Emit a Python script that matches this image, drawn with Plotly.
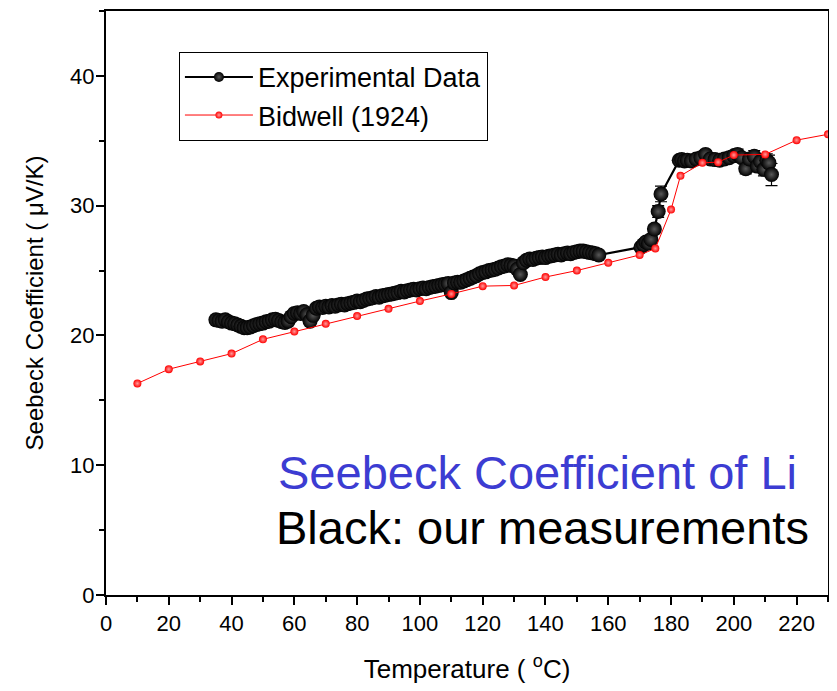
import plotly.graph_objects as go

# Experimental data (dense part)
T_exp = [35, 36, 37, 38, 39, 40, 41, 42, 43, 44, 45, 46, 47, 48, 49, 50, 51, 52, 53, 54,
         55, 56, 57, 58, 59, 60, 61, 62, 63, 64, 65, 66, 67, 68, 69, 70, 71, 72, 73, 74,
         75, 76, 77, 78, 79, 80, 81, 82, 83, 84, 85, 86, 87, 88, 89, 90, 91, 92, 93, 94,
         95, 96, 97, 98, 99, 100, 101, 102, 103, 104, 105, 106, 107, 108, 109, 110, 111, 112, 113, 114,
         115, 116, 117, 118, 119, 120, 121, 122, 123, 124, 125, 126, 127, 128, 129, 130, 131, 132, 133, 134,
         135, 136, 137, 138, 139, 140, 141, 142, 143, 144, 145, 146, 147, 148, 149, 150, 151, 152, 153, 154,
         155, 156, 157]
S_exp = [21.20, 21.15, 21.10, 21.20, 21.05, 20.95, 20.90, 20.80, 20.70, 20.60, 20.60, 20.65, 20.75, 20.85, 20.90, 20.95, 21.05, 21.10, 21.20, 21.25,
         21.15, 21.05, 21.00, 21.10, 21.45, 21.70, 21.75, 21.70, 21.85, 21.60, 21.10, 21.55, 22.10, 22.20, 22.15, 22.25, 22.20, 22.30, 22.25, 22.35,
         22.40, 22.35, 22.45, 22.50, 22.55, 22.65, 22.60, 22.70, 22.80, 22.85, 22.90, 23.00, 22.95, 23.05, 23.10, 23.15, 23.20, 23.25, 23.30, 23.40,
         23.35, 23.45, 23.50, 23.55, 23.50, 23.60, 23.65, 23.60, 23.70, 23.75, 23.80, 23.85, 23.90, 23.95, 24.00, 23.30, 24.05, 24.10, 24.10, 24.20,
         24.30, 24.40, 24.50, 24.60, 24.75, 24.85, 24.90, 25.00, 25.05, 25.10, 25.20, 25.30, 25.35, 25.45, 25.40, 25.35, 25.10, 24.70, 25.60, 25.80,
         25.90, 25.85, 25.95, 26.00, 26.05, 26.00, 26.10, 26.15, 26.20, 26.25, 26.20, 26.30, 26.35, 26.30, 26.40, 26.45, 26.50, 26.50, 26.45, 26.40,
         26.35, 26.30, 26.20]

# Experimental data (transition and plateau, with error bars)
T_tail = [170.4, 171.2, 172.0, 172.8, 173.6, 174.7, 175.9, 176.8, 182.6, 183.4, 184.3, 185.2, 186.5,
          188.0, 189.5, 191.0, 192.5, 194.0, 195.5, 197.0, 198.5, 200.0, 201.2, 202.5, 203.8, 205.0,
          206.5, 207.5, 208.5, 209.6, 210.5, 211.2, 212.0]
S_tail = [26.8, 27.0, 27.2, 27.1, 27.4, 28.2, 29.55, 30.9, 33.5, 33.55, 33.45, 33.5, 33.45,
          33.6, 33.7, 33.95, 33.6, 33.55, 33.5, 33.6, 33.7, 33.85, 33.95, 33.7, 32.85, 33.6,
          33.8, 33.05, 33.4, 32.8, 33.5, 33.3, 32.4]
E_tail = [0.2, 0.2, 0.2, 0.2, 0.2, 0.3, 0.45, 0.6, 0.2, 0.2, 0.2, 0.2, 0.2,
          0.2, 0.25, 0.3, 0.25, 0.25, 0.25, 0.3, 0.3, 0.35, 0.4, 0.35, 0.4, 0.4,
          0.45, 0.45, 0.45, 0.5, 0.5, 0.6, 0.85]

# Bidwell (1924)
T_bid = [10, 20, 30, 40, 50, 60, 70, 80, 90, 100, 110, 120, 130, 140, 150, 160, 170,
         175, 180, 183, 190, 195, 200, 210, 220, 230]
S_bid = [16.3, 17.4, 18.0, 18.6, 19.7, 20.3, 20.9, 21.5, 22.05, 22.65, 23.2, 23.8, 23.85,
         24.5, 25.0, 25.6, 26.2, 26.7, 29.7, 32.3, 33.3, 33.35, 33.9, 33.95, 35.05, 35.5]

x_ticks = [0, 20, 40, 60, 80, 100, 120, 140, 160, 180, 200, 220]
y_ticks = [0, 10, 20, 30, 40]

FONT = "Liberation Sans, Arial, sans-serif"

fig = go.Figure()

# error bars for the tail
fig.add_trace(go.Scatter(
    x=T_tail, y=S_tail, mode="markers",
    marker=dict(size=2, color="black", opacity=0),
    error_y=dict(type="data", array=E_tail, visible=True, color="black",
                 thickness=1.2, width=6),
    showlegend=False, hoverinfo="skip"))

fig.add_trace(go.Scatter(
    x=T_exp + T_tail, y=S_exp + S_tail, mode="lines+markers",
    name="Experimental Data", showlegend=False,
    line=dict(color="black", width=2.2),
    marker=dict(size=15, color="black",
                gradient=dict(type="radial", color="#585858"),
                line=dict(width=0)),
))

fig.add_trace(go.Scatter(
    x=T_bid, y=S_bid, mode="lines+markers",
    name="Bidwell (1924)", showlegend=False,
    line=dict(color="#ff0000", width=1),
    marker=dict(size=8, color="#ff0000",
                gradient=dict(type="radial", color="#ff9a9a"),
                line=dict(width=0)),
))

# legend entries (smaller symbols as in the reference legend)
fig.add_trace(go.Scatter(
    x=[None], y=[None], mode="lines+markers", name="Experimental Data",
    line=dict(color="black", width=2),
    marker=dict(size=10, color="black", gradient=dict(type="radial", color="#585858"),
                line=dict(width=0))))
fig.add_trace(go.Scatter(
    x=[None], y=[None], mode="lines+markers", name="Bidwell (1924)",
    line=dict(color="#ff0000", width=1),
    marker=dict(size=7, color="#ff0000", gradient=dict(type="radial", color="#ff9a9a"),
                line=dict(width=0))))

fig.add_annotation(x=0.598, y=0.2095, xref="paper", yref="paper",
                   text="Seebeck Coefficient of Li", showarrow=False,
                   font=dict(family=FONT, size=47, color="#3c3cd2"),
                   xanchor="center", yanchor="middle")
fig.add_annotation(x=0.605, y=0.116, xref="paper", yref="paper",
                   text="Black: our measurements", showarrow=False,
                   font=dict(family=FONT, size=47, color="black"),
                   xanchor="center", yanchor="middle")

fig.update_layout(
    width=837, height=691,
    margin=dict(l=98, r=17, t=1, b=104),
    paper_bgcolor="white", plot_bgcolor="white",
    font=dict(family=FONT, color="black"),
    showlegend=True,
    legend=dict(x=0.101, y=0.93, xanchor="left", yanchor="top",
                bgcolor="white", bordercolor="black", borderwidth=1,
                font=dict(family=FONT, size=27, color="black"),
                itemwidth=68, tracegroupgap=0),
    xaxis=dict(range=[0, 230], tickvals=x_ticks, ticktext=[str(v) for v in x_ticks],
               showgrid=False, zeroline=False, showline=True, linecolor="black",
               linewidth=2, mirror=True, ticks="outside", ticklen=8, tickwidth=2,
               tickcolor="black", tickfont=dict(size=22, family=FONT),
               minor=dict(dtick=10, tick0=0, ticks="outside", ticklen=5, tickwidth=2,
                          tickcolor="black"),
               title=dict(text="Temperature ( <sup>o</sup>C)", font=dict(size=26, family=FONT),
                          standoff=24)),
    yaxis=dict(range=[0, 45], tickvals=y_ticks, ticktext=[str(v) for v in y_ticks],
               showgrid=False, zeroline=False, showline=True, linecolor="black",
               linewidth=2, mirror=True, ticks="outside", ticklen=8, tickwidth=2,
               tickcolor="black", tickfont=dict(size=22, family=FONT),
               ticklabelstandoff=-3,
               minor=dict(dtick=5, tick0=0, ticks="outside", ticklen=5, tickwidth=2,
                          tickcolor="black"),
               title=dict(text="Seebeck Coefficient ( \u03bcV/K)", font=dict(size=24, family=FONT),
                          standoff=20)),
)

fig.write_html("out.html")
